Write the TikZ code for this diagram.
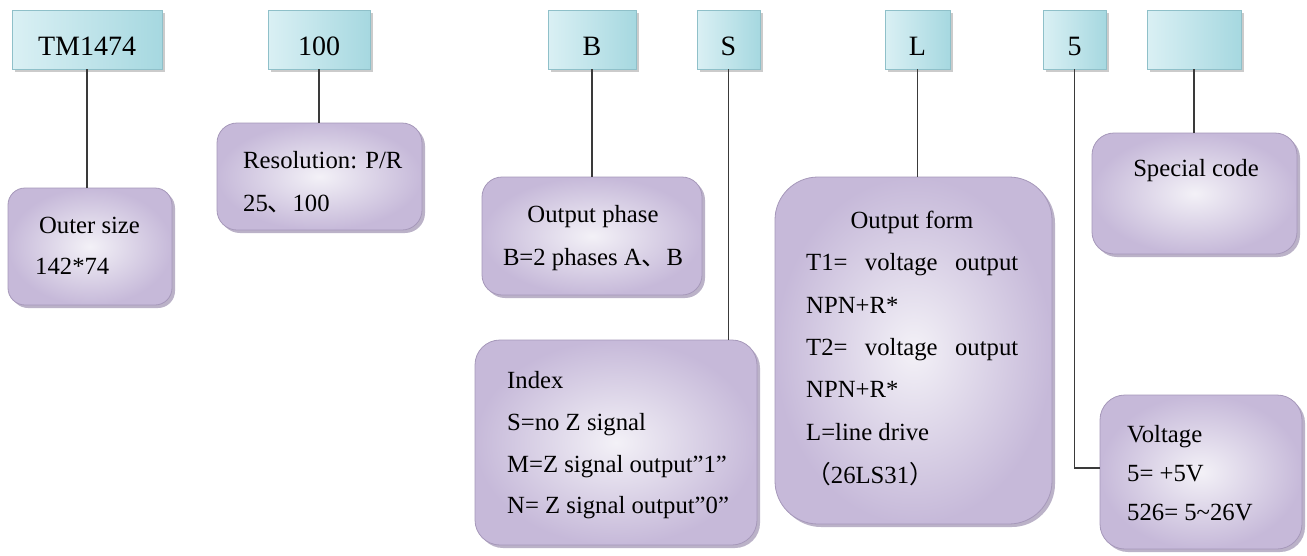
\documentclass[tikz,border=0pt]{standalone}
\usepackage{fontspec}
\setmainfont{Liberation Serif}
\newfontfamily\cjk{Noto Sans CJK SC}
\usetikzlibrary{shadows}
\definecolor{cyanE}{HTML}{A6D8E0}
\definecolor{cyanC}{HTML}{DAF0F4}
\definecolor{cyanB}{HTML}{8FC0C9}
\definecolor{purE}{HTML}{C6B9D9}
\definecolor{purC}{HTML}{F3F1F7}
\definecolor{purB}{HTML}{A698BA}
\definecolor{purS}{HTML}{8E80A4}
\definecolor{lineC}{HTML}{3A3A3A}
\tikzset{
  hdr/.style={draw=cyanB, line width=0.6pt, left color=cyanC, right color=cyanE,
    inner sep=0pt, minimum height=59pt, text height=31pt, text depth=0pt,
    font=\fontsize{28}{30}\selectfont,
    drop shadow={shadow xshift=2.5pt, shadow yshift=-2.5pt, fill=black!45, opacity=.45}},
  pbox/.style={draw=purB, line width=0.8pt, inner color=purC, outer color=purE,
    rounded corners=20pt, inner sep=0pt,
    drop shadow={shadow xshift=3pt, shadow yshift=-3pt, fill=purS, opacity=.6}},
  txt/.style={inner sep=0pt, font=\fontsize{24.7}{30}\selectfont},
  conn/.style={draw=lineC, line width=1.3pt}
}
\begin{document}
\begin{tikzpicture}[x=1pt,y=-1pt]
\useasboundingbox[fill=white] (0,0) rectangle (1307,555);
% header boxes
\node[hdr, minimum width=150pt] (tm) at (87,39.5) {TM1474};
\node[hdr, minimum width=102pt] (res) at (319,39.5) {100};
\node[hdr, minimum width=88pt] (b) at (592,39.5) {B};
\node[hdr, minimum width=63pt] (s) at (728.5,39.5) {S};
\node[hdr, minimum width=65pt] (l) at (917.5,39.5) {L};
\node[hdr, minimum width=63pt] (five) at (1074.5,39.5) {5};
\node[hdr, minimum width=94pt] (blank) at (1194,39.5) {};
% description boxes
\node[pbox, minimum width=164pt, minimum height=117pt, rounded corners=17pt] (outer) at (90,246.5) {};
\node[pbox, minimum width=205pt, minimum height=107pt] (resbox) at (319.5,176.5) {};
\node[pbox, minimum width=220pt, minimum height=118pt] (phase) at (592,236) {};
\node[pbox, minimum width=277pt, minimum height=347pt, rounded corners=43pt] (form) at (913.5,350.5) {};
\node[pbox, minimum width=205pt, minimum height=121pt, rounded corners=22pt] (spec) at (1194.5,193.5) {};
\node[pbox, minimum width=282pt, minimum height=205pt, rounded corners=25pt] (idx) at (616,442.5) {};
\node[pbox, minimum width=202pt, minimum height=154pt, rounded corners=25pt] (volt) at (1201,472) {};
% connectors
\draw[conn] (tm.south) -- (tm.south |- outer.north);
\draw[conn] (res.south) -- (res.south |- resbox.north);
\draw[conn] (b.south) -- (b.south |- phase.north);
\draw[conn] (s.south) -- (s.south |- idx.north);
\draw[conn] (l.south) -- (l.south |- form.north);
\draw[conn] (blank.south) -- (blank.south |- spec.north);
\coordinate (vin) at ([yshift=4pt]volt.west);
\draw[conn] (five.south) |- (vin);
% texts
\node[txt, anchor=base] (t1) at (89.5,233) {Outer size};
\node[txt, anchor=base west] (t2) at (35,274) {142*74};
\node[txt, anchor=base west] (t3) at (243,168) {Resolution: P/R};
\node[txt, anchor=base west] (t4) at (243,211) {25{\cjk 、}100};
\node[txt, anchor=base] (t5) at (593,222) {Output phase};
\node[txt, anchor=base] (t6) at (593,265) {B=2 phases A{\cjk 、}B};
\node[txt, anchor=base] (t7) at (912,228) {Output form};
\node[txt, anchor=base west] (t8) at (806,270) {\makebox[212pt][s]{T1= voltage output}};
\node[txt, anchor=base west] (t9) at (806,313) {NPN+R*};
\node[txt, anchor=base west] (t10) at (806,355) {\makebox[212pt][s]{T2= voltage output}};
\node[txt, anchor=base west] (t11) at (806,397) {NPN+R*};
\node[txt, anchor=base west] (t12) at (806,440) {L=line drive};
\node[txt, anchor=base west] (t13) at (806,483) {{\cjk （}26LS31{\cjk ）}};
\node[txt, anchor=base west] (t14) at (507,388) {Index};
\node[txt, anchor=base west] (t15) at (507,430) {S=no Z signal};
\node[txt, anchor=base west] (t16) at (507,472) {M=Z signal output”1”};
\node[txt, anchor=base west] (t17) at (507,513) {N= Z signal output”0”};
\node[txt, anchor=base] (t18) at (1196,176) {Special code};
\node[txt, anchor=base west] (t19) at (1127,442) {Voltage};
\node[txt, anchor=base west] (t20) at (1127,481) {5= +5V};
\node[txt, anchor=base west] (t21) at (1127,520) {526= 5\textasciitilde26V};
\end{tikzpicture}
\end{document}
